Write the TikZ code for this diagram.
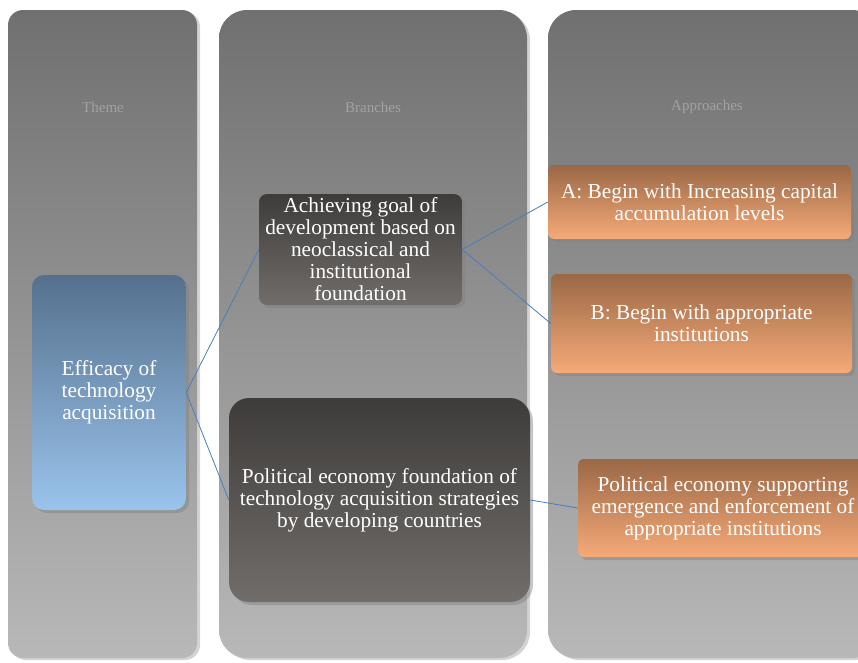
\documentclass[tikz,border=0pt]{standalone}
\usepackage{fontspec}
\setmainfont{Liberation Serif}
\usepackage{xcolor}
\usepackage{tikz}
\usetikzlibrary{calc}
\usetikzlibrary{shapes,arrows,positioning}
\usetikzlibrary{shadows}
\usetikzlibrary{backgrounds}
\definecolor{coltop}{HTML}{707070}
\definecolor{colbot}{HTML}{B8B8B8}
\definecolor{headgray}{HTML}{A2A2A2}
\definecolor{bluetop}{HTML}{55708D}
\definecolor{bluebot}{HTML}{9AC4EC}
\definecolor{darktop}{HTML}{3E3C3A}
\definecolor{darkbot}{HTML}{716D6B}
\definecolor{orgtop}{HTML}{9A6846}
\definecolor{orgbot}{HTML}{F6AA78}
\definecolor{linkblue}{HTML}{4A7EBB}

\tikzset{
	column/.style={top color=coltop,bottom color=colbot,
		drop shadow={shadow xshift=3pt,shadow yshift=-2pt,opacity=0.35}},
	header/.style={text=headgray,font=\fontsize{15}{17}\selectfont},
	boxtext/.style={text=white,align=center,inner sep=0pt,
		font=\fontsize{21.3}{22}\selectfont,
		drop shadow={shadow xshift=3pt,shadow yshift=-3pt,opacity=0.45}},
	themebox/.style={boxtext,top color=bluetop,bottom color=bluebot,rounded corners=12pt},
	branchbox/.style={boxtext,top color=darktop,bottom color=darkbot},
	approachbox/.style={boxtext,top color=orgtop,bottom color=orgbot,rounded corners=6pt},
	link/.style={linkblue,line width=0.8pt}
}

\begin{document}
\begin{tikzpicture}[x=1pt,y=-1pt]
	\useasboundingbox (0,0) rectangle (858,662);
	\clip (0,0) rectangle (858,662);
	\path[column,rounded corners=15pt] (8,10) rectangle (197,658);
	\path[column,rounded corners=28pt] (219,10) rectangle (527,658);
	\path[column,rounded corners=28pt] (548,10) rectangle (880,658);
	\node[header] (theme) at (103,107) {Theme};
	\node[header] (branches) at (373,107) {Branches};
	\node[header] (approaches) at (707,107) {Approaches};

	\node[themebox,minimum width=154pt,minimum height=235pt] (efficacy) at (109,392.5)
		{Efficacy of\\technology\\acquisition};
	\node[branchbox,rounded corners=8pt,minimum width=203pt,minimum height=111pt] (goal) at (360.5,249.5)
		{Achieving goal of\\development based on\\neoclassical and\\institutional\\foundation};
	\node[branchbox,rounded corners=20pt,minimum width=301pt,minimum height=204pt] (polfound) at (379.5,500)
		{Political economy foundation of\\technology acquisition strategies\\by developing countries};
	\node[approachbox,minimum width=303pt,minimum height=74pt] (capital) at (699.5,202)
		{A: Begin with Increasing capital\\accumulation levels};
	\node[approachbox,minimum width=301pt,minimum height=99pt] (instit) at (701.5,323.5)
		{B: Begin with appropriate\\institutions};
	\node[approachbox,minimum width=290pt,minimum height=98pt] (polsupp) at (723,508)
		{Political economy supporting\\emergence and enforcement of\\appropriate institutions};

	\draw[link] (efficacy.east) -- (goal.west);
	\draw[link] (efficacy.east) -- (polfound.west);
	\draw[link] (goal.east) -- (capital.west);
	\draw[link] (goal.east) -- (instit.west);
	\draw[link] (polfound.east) -- (polsupp.west);
\end{tikzpicture}
\end{document}
